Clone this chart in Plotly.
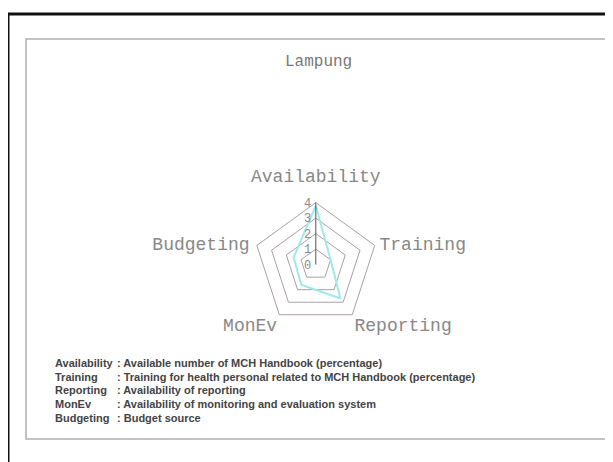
import plotly.graph_objects as go

# ---- data ----
title_text = "Lampung"
categories = ["Availability", "Training", "Reporting", "MonEv", "Budgeting"]
values = [3.8, 1.0, 2.7, 1.6, 1.5]
radial_ticks = [0, 1, 2, 3, 4]
legend_labels = ["Availability", "Training", "Reporting", "MonEv", "Budgeting"]
legend_desc = [
    "Available number of MCH Handbook (percentage)",
    "Training for health personal related to MCH Handbook (percentage)",
    "Availability of reporting",
    "Availability of monitoring and evaluation system",
    "Budget source",
]

OFF = 8  # page body margin
W, H = 613 - OFF, 462 - OFF


def px(x):
    return (x - OFF) / W


def py(y):
    return 1 - (y - OFF) / H


fig = go.Figure()

fig.add_trace(go.Scatterpolar(
    r=values + values[:1],
    theta=categories + categories[:1],
    mode="lines",
    line=dict(color="#9eeaea", width=2),
    showlegend=False,
    hoverinfo="skip",
))

# axis (category) labels placed at the outer ring vertices
rmax = radial_ticks[-1]
fig.add_trace(go.Scatterpolar(
    r=[rmax] * len(categories),
    theta=categories,
    mode="markers+text",
    text=categories,
    textposition=["top center", "middle right", "bottom right", "bottom left", "middle left"],
    marker=dict(size=[24, 6, 2, 2, 10], opacity=0),
    textfont=dict(family="Liberation Mono", size=18, color="#888888"),
    cliponaxis=False,
    showlegend=False,
    hoverinfo="skip",
))

cx, cy, rad = 315.8, 264.6, 62.0
fig.update_layout(
    width=W, height=H,
    margin=dict(l=0, r=0, t=0, b=0),
    paper_bgcolor="white",
    plot_bgcolor="white",
    showlegend=False,
    polar=dict(
        domain=dict(x=[px(cx - rad), px(cx + rad)],
                    y=[py(cy + rad), py(cy - rad)]),
        gridshape="linear",
        bgcolor="white",
        radialaxis=dict(
            range=[0, rmax],
            tickvals=radial_ticks,
            ticktext=[str(t) for t in radial_ticks],
            angle=90,
            tickangle=90,
            side="counterclockwise",
            showline=True,
            linecolor="#555555",
            linewidth=1,
            gridcolor="#ab9ea6",
            gridwidth=1,
            ticks="",
            tickfont=dict(family="Liberation Mono", size=12, color="#888888"),
        ),
        angularaxis=dict(
            direction="clockwise",
            rotation=90,
            showgrid=False,
            showline=True,
            linecolor="#ab9ea6",
            linewidth=1,
            ticks="",
            showticklabels=False,
        ),
    ),
)

# frames
fig.add_shape(type="rect", xref="paper", yref="paper",
              x0=px(8), x1=1.05, y0=-0.05, y1=py(14),
              line=dict(color="#111111", width=3))
fig.add_shape(type="rect", xref="paper", yref="paper",
              x0=px(26), x1=px(606), y0=py(439), y1=py(39),
              line=dict(color="#b0b0b0", width=1.5))

# title
fig.add_annotation(text=title_text, xref="paper", yref="paper",
                   x=px(318), y=py(62), showarrow=False,
                   xanchor="center", yanchor="middle",
                   font=dict(family="Liberation Mono", size=16, color="#777777"))

# legend text block
ys = [363, 377, 390, 404, 418]
for lab, desc, yy in zip(legend_labels, legend_desc, ys):
    fig.add_annotation(text="<b>" + lab + "</b>", xref="paper", yref="paper",
                       x=px(53), y=py(yy), showarrow=False,
                       xanchor="left", yanchor="middle",
                       font=dict(family="Liberation Sans", size=11, color="#444444"))
    fig.add_annotation(text="<b>: " + desc + "</b>", xref="paper", yref="paper",
                       x=px(115), y=py(yy), showarrow=False,
                       xanchor="left", yanchor="middle",
                       font=dict(family="Liberation Sans", size=11, color="#444444"))

fig.write_html("out.html")
